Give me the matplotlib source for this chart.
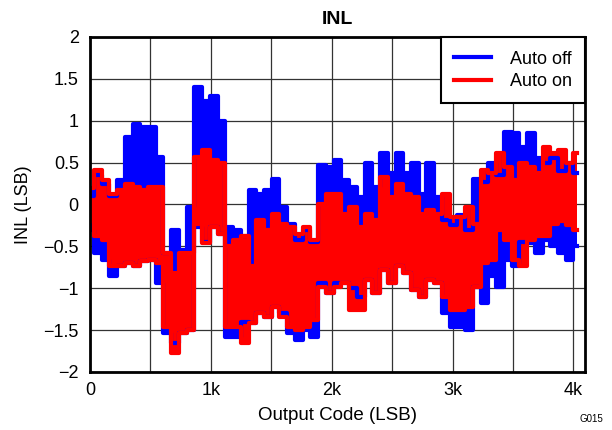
import matplotlib
matplotlib.use('Agg')
import matplotlib.pyplot as plt
import matplotlib.ticker as mticker
from matplotlib.lines import Line2D

plt.rcParams['font.family'] = ['Liberation Sans', 'DejaVu Sans']

# output code sample positions (every 64 codes)
codes = list(range(0, 4033, 64))

# envelope of INL (LSB), Auto off
off_hi = [0.10, 0.35, 0.25, 0.10, 0.29, 0.80, 0.96, 0.92, 0.92, 0.57, -0.58, -0.30, -0.54, -0.03, 1.40, 1.24, 1.30,
          1.00, -0.27, -0.30, -0.38, 0.17, 0.13, 0.17, 0.31, -0.03, -0.23, -0.42, -0.30, -0.45, 0.47, 0.45,
          0.53, 0.29, 0.21, 0.09, 0.49, 0.21, 0.61, 0.37, 0.61, 0.37, 0.49, 0.13, 0.49, 0.09, -0.19, -0.25,
          -0.13, -0.30, 0.30, 0.27, 0.50, 0.35, 0.87, 0.85, 0.69, 0.85, 0.55, 0.50, 0.55, 0.40, 0.50, 0.37]
off_lo = [-0.30, -0.58, -0.66, -0.86, -0.74, -0.70, -0.74, -0.68, -0.66, -0.94, -1.54, -1.65, -1.54, -1.50, -0.27, -0.45, -0.27,
          -0.35, -1.58, -1.58, -1.40, -1.42, -1.30, -1.34, -1.22, -1.30, -1.54, -1.62, -1.50, -1.58, -0.94, -1.06,
          -0.94, -0.94, -1.00, -1.10, -0.90, -1.06, -0.78, -0.94, -0.74, -0.82, -1.02, -1.10, -0.90, -0.94, -1.30, -1.46,
          -1.46, -1.50, -0.98, -1.18, -0.86, -0.98, -0.66, -0.74, -0.45, -0.46, -0.58, -0.42, -0.50, -0.58, -0.66, -0.50]
# Auto on
on_hi = [0.20, 0.41, 0.29, 0.13, 0.17, 0.25, 0.21, 0.17, 0.21, 0.21, -0.58, -0.82, -0.58, -0.58, 0.57, 0.65, 0.53,
         0.49, -0.50, -0.42, -0.38, -0.74, -0.19, -0.30, -0.11, -0.23, -0.27, -0.35, -0.27, -0.42, 0.01, 0.13,
         0.13, -0.11, -0.03, -0.27, -0.11, -0.19, 0.33, 0.09, 0.25, 0.13, 0.09, -0.11, -0.07, -0.11, 0.13, -0.15,
         -0.15, -0.03, -0.23, 0.41, 0.37, 0.61, 0.45, 0.29, 0.49, 0.45, 0.37, 0.69, 0.61, 0.65, 0.49, 0.61]
on_lo = [-0.20, -0.38, -0.42, -0.74, -0.74, -0.70, -0.74, -0.68, -0.66, -0.70, -1.46, -1.77, -1.54, -1.50, -0.23, -0.46, -0.27,
         -0.35, -1.46, -1.46, -1.65, -1.42, -1.30, -1.34, -1.22, -1.34, -1.46, -1.50, -1.46, -1.38, -0.98, -1.06,
         -0.98, -0.94, -1.26, -1.26, -0.90, -1.06, -0.78, -0.94, -0.74, -0.82, -1.02, -1.10, -0.90, -0.94, -1.10, -1.26,
         -1.26, -1.22, -0.98, -0.70, -0.66, -0.30, -0.42, -0.66, -0.74, -0.42, -0.38, -0.38, -0.23, -0.20, -0.25, -0.30]


def draw_band(ax, x, hi, lo, color):
    # filled envelope with thick stepped edges
    ax.fill_between(x, lo, hi, step='mid', color=color, lw=0)
    ax.plot(x, hi, drawstyle='steps-mid', color=color, lw=3)
    ax.plot(x, lo, drawstyle='steps-mid', color=color, lw=3)


fig = plt.figure(figsize=(6.12, 4.30), dpi=100)
ax = fig.add_axes([0.147, 0.135, 0.809, 0.779])

draw_band(ax, codes, off_hi, off_lo, '#0000ff')
draw_band(ax, codes, on_hi, on_lo, '#ff0000')

ax.set_xlim(0, 4096)
ax.set_ylim(-2, 2)
ax.xaxis.set_major_locator(mticker.FixedLocator([0, 1000, 2000, 3000, 4000]))
ax.xaxis.set_minor_locator(mticker.MultipleLocator(500))
ax.xaxis.set_major_formatter(mticker.FixedFormatter(['0', '1k', '2k', '3k', '4k']))
ax.yaxis.set_major_locator(mticker.MultipleLocator(0.5))
ax.yaxis.set_major_formatter(mticker.FuncFormatter(lambda v, p: ('%g' % v).replace('-', '\u2212')))
ax.tick_params(which='both', length=0, labelsize=13)
ax.tick_params(axis='y', pad=8)
ax.tick_params(axis='x', pad=7)
ax.grid(which='both', color='#333333', lw=0.9)
ax.set_axisbelow(True)
for s in ax.spines.values():
    s.set_linewidth(2)

ax.set_title('INL', fontsize=14, fontweight='bold', pad=9)
ax.set_xlabel('Output Code (LSB)', fontsize=13.5, labelpad=6)
ax.set_ylabel('INL (LSB)', fontsize=13, labelpad=8)

handles = [Line2D([], [], color='#0000ff', lw=3), Line2D([], [], color='#ff0000', lw=3)]
leg = ax.legend(handles, ['Auto off', 'Auto on'], loc='upper right', fontsize=13, fancybox=False,
                framealpha=1, edgecolor='black', borderaxespad=0, handlelength=2.05, handletextpad=1.0,
                borderpad=0.75, labelspacing=0.3)
leg.get_frame().set_linewidth(1.5)

fig.text(0.985, 0.015, 'G015', fontsize=7, ha='right', va='bottom')

fig.savefig('out.png', dpi=100)
